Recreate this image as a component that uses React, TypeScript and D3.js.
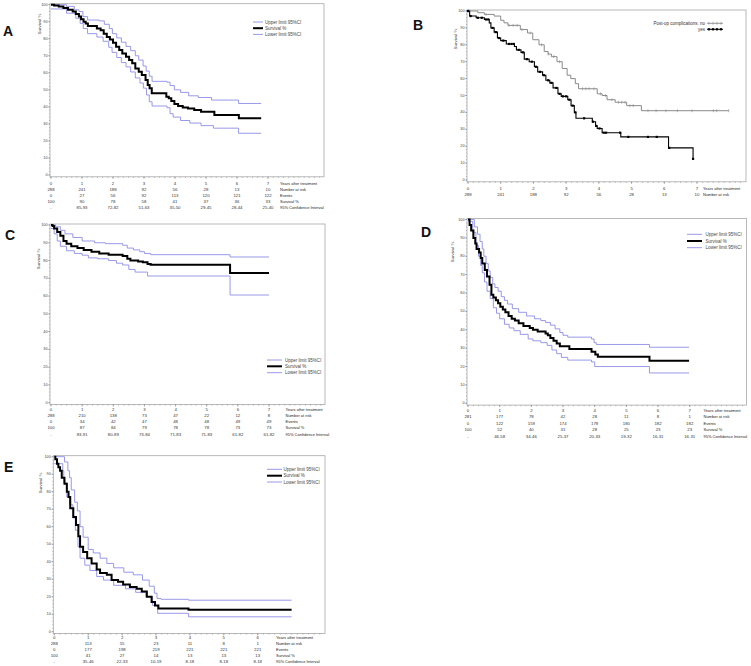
import React from "react";
import * as d3 from "d3";

type Pt = [number, number];

const BLUE = "#8d8de8";
const FONT = "Arial, 'Liberation Sans', sans-serif";
const rowLabels = ["Years after treatment", "Number at risk", "Events", "Survival %", "95% Confidence Interval"];

// ---------- Panel A ----------
const yearsA = [0, 1, 2, 3, 4, 5, 6, 7];
const atRiskA = ["288", "241", "188", "92", "56", "28", "13", "10"];
const eventsA = ["0", "27", "56", "92", "113", "120", "121", "122"];
const survPctA = ["100", "90", "78", "58", "41", "37", "36", "33"];
const ciA = ["-", "85-93", "72-82", "51-63", "35-50", "29-45", "28-44", "25-40"];
const survA: Pt[] = [[0,100],[0.1,99.5],[0.25,99],[0.4,98],[0.55,97],[0.7,96],[0.8,94.5],[0.9,93],[0.97,91.5],[1.05,90],[1.12,89],[1.19,87.5],[1.48,86],[1.6,85],[1.7,83],[1.8,81],[1.9,79.6],[2.0,77.7],[2.1,75.3],[2.2,73.4],[2.3,71.4],[2.42,69.5],[2.52,67.5],[2.62,65.6],[2.72,62.6],[2.83,60.7],[2.93,58.7],[3.05,55.8],[3.12,52.8],[3.18,50.9],[3.25,48],[3.72,46],[3.8,45],[3.88,43.4],[3.98,41.7],[4.1,40.5],[4.25,39.7],[4.42,39],[4.62,38.2],[4.84,37.2],[5.27,35.2],[6.06,33.3],[6.78,33.3]];
const upperA: Pt[] = [[0,100],[0.5,99],[0.75,97],[0.9,96],[1.03,93],[1.18,91],[1.55,90.5],[1.72,88.5],[1.88,86],[1.98,83],[2.12,80.5],[2.27,78],[2.42,75.5],[2.57,73],[2.72,70],[2.83,67.5],[2.97,64],[3.07,61],[3.17,58],[3.26,55],[3.74,54.5],[3.84,52.5],[3.98,50],[4.18,48.5],[4.44,46.5],[4.75,45.5],[5.18,44],[6.05,42],[6.78,42]];
const lowerA: Pt[] = [[0,97.5],[0.5,95],[0.8,92],[0.94,89],[1.04,86],[1.18,83],[1.48,81],[1.68,78.5],[1.86,75],[1.97,72],[2.12,69],[2.27,66],[2.42,63.5],[2.57,60.5],[2.72,57],[2.87,54],[2.98,51],[3.08,47],[3.17,43],[3.26,40.5],[3.74,39.5],[3.84,36],[3.94,34],[4.18,32],[4.48,30.5],[4.84,29],[5.24,27.5],[6.05,24.5],[6.78,24.5]];

// ---------- Panel B ----------
const yearsB = [0, 1, 2, 3, 4, 5, 6, 7];
const atRiskB = ["288", "241", "188", "92", "56", "28", "13", "10"];
const noB: Pt[] = [[0,100],[0.3,99],[0.5,98],[0.8,97],[1.0,94.5],[1.1,93],[1.22,91.5],[1.6,89],[1.82,87],[1.98,83],[2.17,80],[2.33,76],[2.45,74.5],[2.55,73],[2.72,70],[2.88,66],[3.03,62],[3.14,60],[3.28,57],[3.38,54],[3.95,51],[4.1,50],[4.25,47.5],[4.5,46],[4.85,44],[5.3,41],[7.97,41]];
const yesB: Pt[] = [[0,100],[0.05,97],[0.25,96],[0.5,95],[0.65,93],[0.7,90],[0.8,87.5],[0.9,84],[1.0,82.5],[1.17,80.5],[1.42,79],[1.48,77],[1.62,75.5],[1.72,71.5],[1.87,70],[2.03,67],[2.13,64],[2.28,62],[2.38,59],[2.5,57.5],[2.6,54.5],[2.75,51],[2.85,49.5],[3.05,47.5],[3.15,44],[3.25,40],[3.3,36.5],[3.8,34.5],[3.9,32],[3.95,30.5],[4.1,28],[4.67,25.5],[6.13,19],[6.88,12.5],[6.88,12.5]];
const censorNoB = [0.02,0.55,1.25,1.38,1.5,1.65,1.9,2.25,2.45,2.62,2.8,3.5,3.6,3.7,3.85,4.05,4.2,4.4,4.6,4.7,4.8,4.95,5.05,5.5,5.75,6.05,6.4,6.85,7.5,7.6,7.97];
const censorYesB = [0.0,0.08,0.3,0.42,0.55,0.62,0.75,0.85,0.95,1.08,1.25,1.33,1.4,1.55,1.68,1.8,1.95,2.08,2.2,2.32,2.45,2.55,2.7,2.8,2.9,3.0,3.1,3.2,3.28,3.55,3.82,3.92,4.02,4.15,4.22,4.65,4.9,5.5,5.77,6.15,6.88];

// ---------- Panel C ----------
const yearsC = [0, 1, 2, 3, 4, 5, 6, 7];
const atRiskC = ["288", "210", "138", "73", "47", "22", "12", "8"];
const eventsC = ["0", "34", "42", "47", "48", "48", "49", "49"];
const survPctC = ["100", "87", "84", "79", "78", "78", "73", "73"];
const ciC = ["-", "83-91", "80-89", "73-84", "71-83", "71-83", "61-82", "61-82"];
const survC: Pt[] = [[0,100],[0.05,99.5],[0.1,98],[0.2,96],[0.3,94],[0.4,91],[0.5,89.5],[0.65,88],[0.85,87],[1.05,86],[1.3,85],[1.55,84],[1.85,83.3],[2.3,82.5],[2.45,81],[2.55,80],[2.8,79.5],[2.95,79],[3.1,78],[3.2,77.7],[5.75,73],[7.0,73]];
const upperC: Pt[] = [[0,100],[0.15,99],[0.3,97],[0.45,95],[0.7,93],[1.0,91],[1.4,90],[1.75,89.5],[2.3,88.6],[2.45,87],[2.65,86],[2.85,85],[3.0,84],[3.2,83.3],[5.75,82],[7.0,82]];
const lowerC: Pt[] = [[0,98],[0.1,95],[0.2,91],[0.3,88],[0.5,85.5],[0.75,84],[1.0,83],[1.2,81.5],[1.5,81],[1.85,80],[2.1,78.5],[2.3,77.5],[2.5,75],[2.7,73.5],[3.1,71.3],[5.75,60.6],[7.0,60.6]];

// ---------- Panel D ----------
const yearsD = [0, 1, 2, 3, 4, 5, 6, 7];
const atRiskD = ["281", "177", "78", "42", "28", "11", "8", "1"];
const eventsD = ["0", "122", "159", "174", "178", "180", "182", "182"];
const survPctD = ["100", "52", "40", "31", "28", "25", "23", "23"];
const ciD = ["-", "46-58", "34-46", "25-37", "20-33", "19-32", "16-31", "16-31"];
const survD: Pt[] = [[0,100],[0.05,97],[0.1,94],[0.17,90],[0.23,87],[0.27,84],[0.35,82],[0.4,79],[0.45,76],[0.53,72.5],[0.6,69],[0.68,64.5],[0.74,59],[0.8,57.5],[0.88,56],[0.95,54.5],[1.02,52.5],[1.1,51],[1.18,49.5],[1.28,47.5],[1.38,46],[1.48,45],[1.6,43.5],[1.75,42],[1.95,41],[2.05,40],[2.2,39],[2.45,38],[2.52,37],[2.6,35.5],[2.7,34],[2.8,32.5],[2.9,31],[3.2,29.5],[3.9,28],[4.02,26.5],[4.1,25.3],[5.73,23.2],[6.98,23.2]];
const upperD: Pt[] = [[0,100],[0.2,96],[0.3,92],[0.38,88],[0.45,84],[0.5,80],[0.57,76],[0.64,72],[0.7,68.5],[0.78,65],[0.85,63],[0.95,61],[1.05,58],[1.15,56],[1.25,54],[1.4,51.5],[1.6,49.5],[1.85,47.5],[2.1,46],[2.3,45],[2.45,44],[2.6,42.5],[2.75,40.5],[2.9,38.5],[3.0,37],[3.15,36],[3.9,35],[3.98,33],[4.05,32],[5.73,30.5],[6.98,30.5]];
const lowerD: Pt[] = [[0,99],[0.15,93],[0.25,86],[0.33,80],[0.4,75],[0.45,71],[0.52,66],[0.6,61],[0.7,57],[0.8,52],[0.9,49],[1.0,46],[1.15,43],[1.3,41],[1.45,39.5],[1.65,37.5],[1.9,35],[2.05,34],[2.3,33],[2.5,31.5],[2.65,29],[2.8,27],[2.95,25],[3.15,23.5],[3.9,22.5],[4.0,20],[5.73,16.5],[6.98,16.5]];

// ---------- Panel E ----------
const yearsE = [0, 1, 2, 3, 4, 5, 6];
const atRiskE = ["288", "113", "55", "23", "11", "8", "1"];
const eventsE = ["0", "177", "198", "219", "221", "221", "221"];
const survPctE = ["100", "41", "27", "14", "13", "13", "13"];
const ciE = ["-", "35-46", "22-33", "10-19", "8-18", "8-18", "8-18"];
const survE: Pt[] = [[0,100],[0.03,98.5],[0.08,96],[0.12,94],[0.17,92],[0.22,88],[0.3,84.5],[0.37,80],[0.42,77],[0.47,70.5],[0.56,65.5],[0.64,61],[0.71,54.5],[0.76,48.5],[0.85,45.5],[0.97,42],[1.1,39],[1.25,35.5],[1.35,33.5],[1.55,32.5],[1.69,29.5],[1.88,28.5],[2.03,27],[2.23,25.5],[2.43,24.5],[2.58,23],[2.73,20],[2.87,17],[2.97,15],[3.07,13.3],[3.96,12.5],[7.0,12.5]];
const upperE: Pt[] = [[0,100],[0.3,97],[0.4,92],[0.45,88],[0.5,81],[0.6,74],[0.68,69],[0.76,60],[0.85,54],[1.0,47],[1.15,45],[1.35,42],[1.55,39],[1.75,36.5],[2.05,34],[2.33,32.5],[2.6,29.5],[2.8,26],[2.95,22],[3.03,19],[3.15,18.5],[3.96,18],[7.0,18]];
const lowerE: Pt[] = [[0,96],[0.25,92],[0.28,85],[0.37,77],[0.45,72.5],[0.55,65],[0.62,58],[0.7,48.5],[0.76,42],[0.9,38],[1.05,35],[1.25,31.5],[1.45,29.5],[1.75,26.5],[2.1,24.5],[2.4,22.5],[2.7,20],[2.9,15],[3.05,10.5],[3.96,8.5],[7.0,8.5]];

const ciLegend = ["Upper limit 95%CI", "Survival %", "Lower limit 95%CI"];

interface Curve { data: Pt[]; color: string; width: number; }
interface PanelCfg {
  letter: string; letterX: number; letterY: number;
  xDomainMax: number; xRange: [number, number]; yRange: [number, number]; frameRight: number;
  yLabelX: number; yLabelCY: number;
  curves: Curve[];
  years: number[]; rows: string[][]; rowLabels: string[]; rowY0: number; rowStep: number; labelX: number;
  legend?: { x1: number; x2: number; tx: number; ys: number[] };
}

function stepAt(data: Pt[], t: number) {
  let v = data[0][1];
  for (const d of data) if (d[0] <= t) v = d[1];
  return v;
}

function Panel({ c, children }: { c: PanelCfg; children?: (x: any, y: any) => React.ReactNode }) {
  const x = d3.scaleLinear().domain([0, c.xDomainMax]).range(c.xRange);
  const y = d3.scaleLinear().domain([0, 100]).range(c.yRange);
  const left = x(0) - 1;
  const top = y(100) - 1;
  const bottom = y(0) + 1.8;
  const right = c.frameRight;
  const xMaxVis = x.invert(right);
  const minorX = d3.range(0, xMaxVis, 1 / 6);
  const majorY = d3.range(0, 101, 10);
  const minorY = d3.range(0, 101, 2);
  const line = d3.line<Pt>().x(d => x(d[0])).y(d => y(d[1])).curve(d3.curveStepAfter);
  return (
    <g>
      <text x={c.letterX} y={c.letterY} fontSize={14} fontWeight="bold" fontFamily={FONT} fill="#111">{c.letter}</text>
      <rect x={left} y={top} width={right - left} height={bottom - top} fill="none" stroke="#a8a8a8" strokeWidth={0.8} />
      {minorX.map((t, i) => (
        <line key={"mx" + i} x1={x(t)} x2={x(t)} y1={bottom} y2={bottom + 1.2} stroke="#888" strokeWidth={0.5} />
      ))}
      {c.years.map(t => (
        <line key={"Mx" + t} x1={x(t)} x2={x(t)} y1={bottom} y2={bottom + 2} stroke="#777" strokeWidth={0.6} />
      ))}
      {minorY.map(v => (
        <line key={"my" + v} x1={left - 1} x2={left} y1={y(v)} y2={y(v)} stroke="#888" strokeWidth={0.5} />
      ))}
      {majorY.map(v => (
        <g key={"My" + v}>
          <line x1={left - 1.8} x2={left} y1={y(v)} y2={y(v)} stroke="#777" strokeWidth={0.6} />
          <text x={left - 2.5} y={y(v)} fontSize={3.8} fontFamily={FONT} fill="#444" textAnchor="end" dominantBaseline="central">{v}</text>
        </g>
      ))}
      <text transform={`translate(${c.yLabelX},${c.yLabelCY}) rotate(-90)`} fontSize={4.4} fontFamily={FONT} fill="#444" textAnchor="middle" dominantBaseline="central">Survival %</text>
      {c.curves.map((cv, i) => (
        <path key={"c" + i} d={line(cv.data)!} fill="none" stroke={cv.color} strokeWidth={cv.width} />
      ))}
      {children && children(x, y)}
      {c.legend && ciLegend.map((lab, i) => (
        <g key={"lg" + i}>
          <line x1={c.legend!.x1} x2={c.legend!.x2} y1={c.legend!.ys[i]} y2={c.legend!.ys[i]} stroke={i === 1 ? "#000" : BLUE} strokeWidth={i === 1 ? 2 : 0.9} />
          <text x={c.legend!.tx} y={c.legend!.ys[i]} fontSize={4.5} fontFamily={FONT} fill="#444" dominantBaseline="central">{lab}</text>
        </g>
      ))}
      {[c.years.map(String), ...c.rows].map((row, ri) => (
        <g key={"r" + ri}>
          {row.map((s, j) => (
            <text key={j} x={x(c.years[j])} y={c.rowY0 + ri * c.rowStep} fontSize={4.3} fontFamily={FONT} fill="#333" textAnchor="middle" dominantBaseline="central">{s}</text>
          ))}
          <text x={c.labelX} y={c.rowY0 + ri * c.rowStep} fontSize={4.0} fontFamily={FONT} fill="#222" dominantBaseline="central">{c.rowLabels[ri]}</text>
        </g>
      ))}
    </g>
  );
}

const ciCurves = (s: Pt[], u: Pt[], l: Pt[]): Curve[] => [
  { data: u, color: BLUE, width: 0.9 },
  { data: l, color: BLUE, width: 0.9 },
  { data: s, color: "#000", width: 2 },
];

const panelA: PanelCfg = {
  letter: "A", letterX: 3, letterY: 36, xDomainMax: 7, xRange: [51, 268], yRange: [175, 4.7], frameRight: 324,
  yLabelX: 39, yLabelCY: 24, curves: ciCurves(survA, upperA, lowerA),
  years: yearsA, rows: [atRiskA, eventsA, survPctA, ciA], rowLabels, rowY0: 183, rowStep: 6.2, labelX: 280,
  legend: { x1: 253, x2: 263, tx: 265, ys: [22, 28.2, 34.4] },
};
const panelB: PanelCfg = {
  letter: "B", letterX: 413, letterY: 30, xDomainMax: 7, xRange: [468, 697], yRange: [180, 11], frameRight: 746,
  yLabelX: 455, yLabelCY: 39, curves: [{ data: noB, color: "#8a8a8a", width: 1 }, { data: yesB, color: "#000", width: 1.1 }],
  years: yearsB, rows: [atRiskB], rowLabels: ["Years after treatment", "Number at risk"], rowY0: 188.3, rowStep: 6.3, labelX: 703,
};
const panelC: PanelCfg = {
  letter: "C", letterX: 5, letterY: 240, xDomainMax: 7, xRange: [51, 269], yRange: [402.7, 225], frameRight: 325,
  yLabelX: 38, yLabelCY: 259, curves: ciCurves(survC, upperC, lowerC),
  years: yearsC, rows: [atRiskC, eventsC, survPctC, ciC], rowLabels, rowY0: 409, rowStep: 6.3, labelX: 285.5,
  legend: { x1: 267, x2: 282, tx: 285, ys: [360, 366.3, 372.7] },
};
const panelD: PanelCfg = {
  letter: "D", letterX: 421, letterY: 237, xDomainMax: 7, xRange: [468, 689.7], yRange: [403.3, 219.5], frameRight: 746.5,
  yLabelX: 452, yLabelCY: 252, curves: ciCurves(survD, upperD, lowerD),
  years: yearsD, rows: [atRiskD, eventsD, survPctD, ciD], rowLabels, rowY0: 410, rowStep: 6.5, labelX: 703.5,
  legend: { x1: 687, x2: 702, tx: 705.5, ys: [234.3, 241, 247.7] },
};
const panelE: PanelCfg = {
  letter: "E", letterX: 4, letterY: 472, xDomainMax: 6, xRange: [54.3, 257.7], yRange: [631.7, 456.7], frameRight: 325,
  yLabelX: 40, yLabelCY: 483, curves: ciCurves(survE, upperE, lowerE),
  years: yearsE, rows: [atRiskE, eventsE, survPctE, ciE], rowLabels, rowY0: 637.5, rowStep: 6.05, labelX: 276,
  legend: { x1: 267, x2: 282, tx: 283.5, ys: [469.3, 475.7, 482] },
};

export default function App() {
  return (
    <svg width={751} height={666} style={{ position: "absolute", left: 0, top: 0, background: "#fff" }}>
      <rect width={751} height={666} fill="#fff" />
      <Panel c={panelA} />
      <Panel c={panelB}>
        {(x, y) => (
          <g>
            {censorNoB.map((t, i) => (
              <line key={"n" + i} x1={x(t)} x2={x(t)} y1={y(stepAt(noB, t)) - 1.5} y2={y(stepAt(noB, t)) + 1.5} stroke="#8a8a8a" strokeWidth={0.6} />
            ))}
            {censorYesB.map((t, i) => (
              <rect key={"y" + i} x={x(t) - 1.1} y={y(stepAt(yesB, t)) - 1.1} width={2.2} height={2.2} fill="#000" />
            ))}
            <text x={705} y={23.3} fontSize={4.5} fontFamily={FONT} fill="#333" textAnchor="end" dominantBaseline="central">Post-op complications:  no</text>
            <text x={705} y={29.3} fontSize={4.5} fontFamily={FONT} fill="#333" textAnchor="end" dominantBaseline="central">yes</text>
            <line x1={707} x2={723} y1={23.3} y2={23.3} stroke="#8a8a8a" strokeWidth={0.9} />
            {[709, 713, 717, 721].map(px => (
              <line key={"ln" + px} x1={px} x2={px} y1={21.8} y2={24.8} stroke="#8a8a8a" strokeWidth={0.6} />
            ))}
            <line x1={707} x2={723} y1={29.3} y2={29.3} stroke="#000" strokeWidth={1} />
            {[709, 713, 717, 721].map(px => (
              <rect key={"ly" + px} x={px - 1.1} y={28.2} width={2.2} height={2.2} fill="#000" />
            ))}
          </g>
        )}
      </Panel>
      <Panel c={panelC} />
      <Panel c={panelD} />
      <Panel c={panelE} />
    </svg>
  );
}
